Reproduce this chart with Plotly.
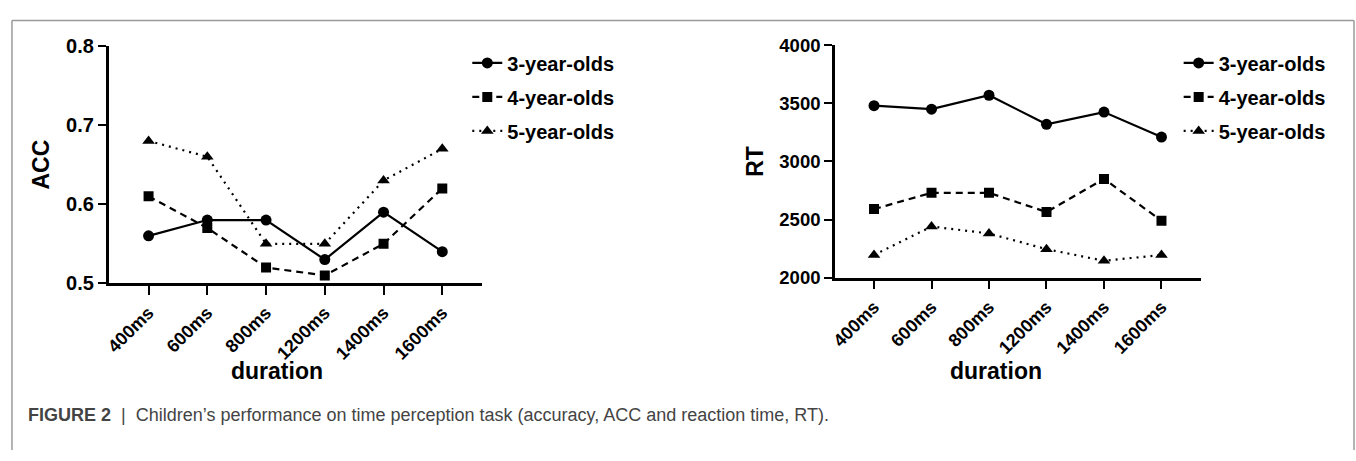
import plotly.graph_objects as go

# ---- data ----
durations = ["400ms", "600ms", "800ms", "1200ms", "1400ms", "1600ms"]
groups = ["3-year-olds", "4-year-olds", "5-year-olds"]
acc_3 = [0.56, 0.58, 0.58, 0.53, 0.59, 0.54]
acc_4 = [0.61, 0.57, 0.52, 0.51, 0.55, 0.62]
acc_5 = [0.68, 0.66, 0.55, 0.55, 0.63, 0.67]
rt_3 = [3480, 3450, 3570, 3320, 3425, 3210]
rt_4 = [2590, 2730, 2730, 2565, 2850, 2490]
rt_5 = [2195, 2440, 2380, 2245, 2145, 2195]
acc_ticks = [0.5, 0.6, 0.7, 0.8]
rt_ticks = [2000, 2500, 3000, 3500, 4000]
x_title = "duration"
acc_title = "ACC"
rt_title = "RT"
caption_label = "FIGURE 2"
caption_text = "Children’s performance on time perception task (accuracy, ACC and reaction time, RT)."

# ---- styles ----
FONT = "Liberation Sans, Arial, sans-serif"
symbols = ["circle", "square", "triangle-up"]
sizes = [11, 10, 11]
dashes = ["solid", "7px,5px", "2px,5px"]

W, H = 1356, 461

fig = go.Figure()

acc_series = [acc_3, acc_4, acc_5]
rt_series = [rt_3, rt_4, rt_5]

for i, g in enumerate(groups):
    fig.add_trace(go.Scatter(
        x=durations, y=acc_series[i], name=g, mode="lines+markers",
        line=dict(color="black", width=2.2, dash=dashes[i]),
        marker=dict(symbol=symbols[i], size=sizes[i], color="black"),
        xaxis="x", yaxis="y", legend="legend", legendgroup="a%d" % i,
    ))
for i, g in enumerate(groups):
    fig.add_trace(go.Scatter(
        x=durations, y=rt_series[i], name=g, mode="lines+markers",
        line=dict(color="black", width=2.2, dash=dashes[i]),
        marker=dict(symbol=symbols[i], size=sizes[i], color="black"),
        xaxis="x2", yaxis="y2", legend="legend2", legendgroup="b%d" % i,
    ))

def px_x(p):
    return p / W

def px_y(p):
    return (H - p) / H

common_x = dict(
    type="category", range=[-0.68, 5.68], showline=True, linecolor="black",
    linewidth=2.5, ticks="outside", ticklen=9, tickwidth=2.2, tickcolor="black",
    tickangle=-45, showgrid=False, zeroline=False,
    tickfont=dict(family=FONT, size=18, color="black", weight="bold"),
)
common_y = dict(
    showline=True, linecolor="black", linewidth=2.5, ticks="outside",
    ticklen=8, tickwidth=2.2, tickcolor="black", showgrid=False, zeroline=False,
)

legend_common = dict(
    font=dict(family=FONT, size=20, color="black", weight="bold"),
    bgcolor="rgba(0,0,0,0)", traceorder="grouped", tracegroupgap=5,
    xanchor="left", yanchor="top", itemwidth=30,
)

title_font = dict(family=FONT, size=23, color="black", weight="bold")

fig.update_layout(
    width=W, height=H,
    margin=dict(l=0, r=0, t=0, b=0),
    paper_bgcolor="white", plot_bgcolor="white",
    font=dict(family=FONT, color="black"),
    xaxis=dict(common_x, domain=[px_x(104), px_x(479)], anchor="y"),
    yaxis=dict(common_y, domain=[px_y(286), px_y(36.7)], anchor="x",
               range=[0.5, 0.8], tickvals=acc_ticks, tickformat=".1f",
               tickfont=dict(family=FONT, size=20, color="black", weight="bold"),
               title=dict(text=acc_title, standoff=10, font=title_font)),
    xaxis2=dict(common_x, domain=[px_x(833), px_x(1200)], anchor="y2"),
    yaxis2=dict(common_y, domain=[px_y(280), px_y(36)], anchor="x2",
                range=[2000, 4000], tickvals=rt_ticks,
                tickfont=dict(family=FONT, size=18.5, color="black", weight="bold"),
                title=dict(text=rt_title, standoff=10, font=title_font)),
    legend=dict(legend_common, x=px_x(464), y=px_y(34)),
    legend2=dict(legend_common, x=px_x(1178), y=px_y(34)),
    showlegend=True,
)

# x-axis titles (centred under the tick-label block, as in the original)
fig.add_annotation(text=x_title, xref="paper", yref="paper",
                   x=px_x(273), y=px_y(378), xanchor="center", yanchor="middle",
                   showarrow=False, font=title_font)
fig.add_annotation(text=x_title, xref="paper", yref="paper",
                   x=px_x(995), y=px_y(378), xanchor="center", yanchor="middle",
                   showarrow=False, font=title_font)

# caption
fig.add_annotation(
    text="<b>%s</b>&nbsp; |&nbsp; %s" % (caption_label, caption_text),
    xref="paper", yref="paper", x=px_x(21), y=px_y(424),
    xanchor="left", yanchor="middle", showarrow=False,
    font=dict(family=FONT, size=18, color="#444444"),
)

# frame
frame = dict(type="line", xref="paper", yref="paper",
             line=dict(color="#9a9a9a", width=1.5))
fig.add_shape(frame, x0=px_x(7), x1=px_x(1354), y0=px_y(10), y1=px_y(10))
fig.add_shape(frame, x0=px_x(7), x1=px_x(7), y0=px_y(10), y1=0)
fig.add_shape(frame, x0=px_x(1354), x1=px_x(1354), y0=px_y(10), y1=0)

fig.write_html(
    "out.html",
    config={"displayModeBar": False},
    post_script="document.body.style.margin='0';document.body.style.padding='0';"
                "document.body.style.overflow='hidden';",
)
